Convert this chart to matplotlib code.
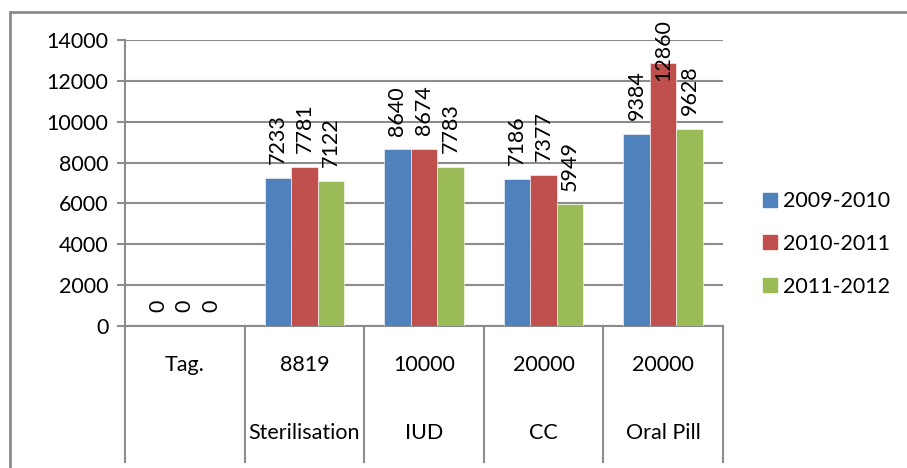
import matplotlib
matplotlib.use('Agg')
import matplotlib.pyplot as plt
import numpy as np
from matplotlib.patches import Rectangle, Patch
from matplotlib import transforms

plt.rcParams['font.family'] = ['Lato', 'DejaVu Sans']

targets = ['Tag.', '8819', '10000', '20000', '20000']
methods = ['', 'Sterilisation', 'IUD', 'CC', 'Oral Pill']
years = ['2009-2010', '2010-2011', '2011-2012']
v_2009 = [0, 7233, 8640, 7186, 9384]
v_2010 = [0, 7781, 8674, 7377, 12860]
v_2011 = [0, 7122, 7783, 5949, 9628]
colors = ['#4F81BD', '#C0504D', '#9BBB59']
GREY = '#8c8c8c'
FS = 15.5

W, H = 907, 468
fig = plt.figure(figsize=(W / 100, H / 100), dpi=100)
ax = fig.add_axes([125 / W, 1 - 326 / H, (723 - 125) / W, (326 - 40) / H])

# outer chart border (runs off the right and bottom edge)
fig.patches.append(Rectangle((10 / W, -0.1), 1.2, 1.1 - 12 / H, transform=fig.transFigure,
                             fill=False, edgecolor=GREY, lw=2))

x = np.arange(len(targets))
bw = 0.222
series = [v_2009, v_2010, v_2011]
for i, vals in enumerate(series):
    ax.bar(x + (i - 1) * bw, vals, bw, color=colors[i], zorder=3,
           edgecolor='white', lw=0.4)
    for xi, v in zip(x + (i - 1) * bw, vals):
        top_px = 326 - v / 14000 * 286
        if top_px - 15 - 62 < 20:
            # no room above the bar: keep the label inside the chart area
            ax.annotate(str(v), xy=(xi, 1), xycoords=('data', 'axes fraction'),
                        xytext=(0, 15), textcoords='offset points',
                        rotation=90, ha='center', va='top', fontsize=FS)
        else:
            ax.annotate(str(v), xy=(xi, v), xytext=(0, 10), textcoords='offset points',
                        rotation=90, ha='center', va='bottom', fontsize=FS)

ax.set_ylim(0, 14000)
ax.set_xlim(-0.5, len(targets) - 0.5)
ax.set_yticks(np.arange(0, 14001, 2000))
ax.tick_params(axis='y', length=6, color=GREY, width=1.5, labelsize=FS, pad=6)
ax.set_xticks([])
ax.yaxis.grid(True, color=GREY, lw=1.5, zorder=0)
for s in ['top', 'right']:
    ax.spines[s].set_visible(False)
for s in ['left', 'bottom']:
    ax.spines[s].set_color(GREY)
    ax.spines[s].set_linewidth(1.5)

# category table under the axis
tr = transforms.blended_transform_factory(ax.transData, ax.transAxes)
bottom = -(462 - 326) / 286
for xl in np.arange(-0.5, len(targets), 1.0):
    ax.plot([xl, xl], [0, bottom], transform=tr, color=GREY, lw=1.5, clip_on=False)
for xi, t, m in zip(x, targets, methods):
    ax.text(xi, -(365 - 326) / 286, t, transform=tr, ha='center', va='center', fontsize=FS)
    ax.text(xi, -(433 - 326) / 286, m, transform=tr, ha='center', va='center', fontsize=FS)

handles = [Patch(color=c) for c in colors]
fig.legend(handles, years, loc='center left', bbox_to_anchor=(744 / W, 1 - 244 / H),
           frameon=False, fontsize=FS, handlelength=0.62, handleheight=0.62,
           handletextpad=0.28, labelspacing=1.05)

fig.savefig('out.png', dpi=100)
